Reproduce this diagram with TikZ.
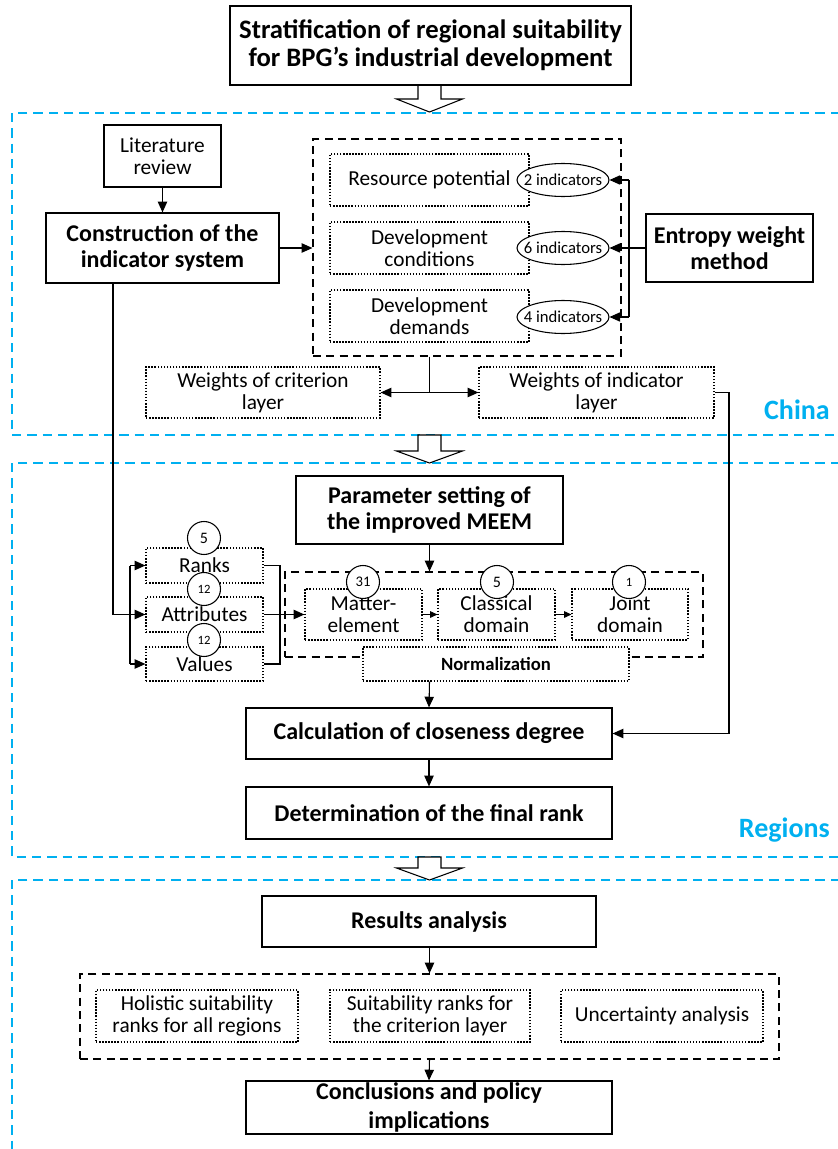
\documentclass[tikz,border=0pt]{standalone}
\usepackage{fontspec}
\setmainfont{Carlito}
\usetikzlibrary{arrows.meta,shapes.geometric}
\definecolor{skyb}{RGB}{0,176,240}
\newcommand\bx[7]{\node[#6, minimum width={(#4-#2)*0.75pt}, minimum height={(#5-#3)*0.75pt}] (#1) at ({(#2+#4)/2},{(#3+#5)/2}) {#7};}
\newcommand\barrow[4]{\draw[line width=0.8pt, fill=white] (#1-11.5,#2) -- (#1+11.5,#2) -- (#1+11.5,#3) -- (#1+33,#3) -- (#1,#4) -- (#1-33,#3) -- (#1-11.5,#3) -- cycle;}
\begin{document}
\begin{tikzpicture}[x=0.75pt,y=-0.75pt,
  main/.style={draw, line width=0.9pt, fill=white, align=center, inner sep=0pt, font=\bfseries\fontsize{18}{19}\selectfont},
  plainbox/.style={draw, line width=0.9pt, fill=white, align=center, inner sep=0pt, font=\fontsize{16}{16.5}\selectfont},
  dotbox/.style={draw, line width=0.9pt, dash pattern=on 1.1pt off 1.2pt, fill=white, align=center, inner sep=0pt, font=\fontsize{16}{16.5}\selectfont},
  dashbox/.style={draw, line width=0.9pt, dash pattern=on 6pt off 4pt, inner sep=0pt},
  bluel/.style={draw=skyb, line width=1.1pt, dash pattern=on 7pt off 4.5pt},
  conn/.style={line width=0.8pt},
  arr/.style={line width=0.8pt, -{Triangle[length=8pt,width=7pt]}},
  sarr/.style={line width=0.6pt, -{Triangle[length=5.5pt,width=5pt]}},
  num/.style={circle, draw, fill=white, line width=0.8pt, minimum size=24.75pt, inner sep=0pt},
  ind/.style={ellipse, draw, fill=white, line width=0.8pt, minimum width=69pt, minimum height=24.75pt, inner sep=0pt},
  indtxt/.style={font=\fontsize{12.5}{13}\selectfont, inner sep=0pt},
  region/.style={font=\bfseries\fontsize{21}{21}\selectfont, text=skyb, anchor=base east, inner sep=0pt}
]
\useasboundingbox (0,0) rectangle (838,1149);

% blue region frames
\draw[bluel] (840,113) -- (12,113) -- (12,435) -- (840,435);
\draw[bluel] (840,463) -- (12,463) -- (12,857) -- (840,857);
\draw[bluel] (840,880) -- (12,880) -- (12,1152);
\node[region] (china) at (830,419) {China};
\node[region] (regions) at (830,837) {Regions};

% block arrows
\barrow{429.5}{85}{99}{112}
\barrow{429.5}{435}{451}{463}
\barrow{429.5}{857}{868}{880}

% title
\bx{title}{230}{6}{631}{85}{main, font=\bfseries\fontsize{20}{21}\selectfont}{Stratification of regional suitability\\for BPG’s industrial development}

% China part
\bx{lit}{104}{125}{221}{187}{plainbox}{Literature\\review}
\bx{cons}{46}{213}{279}{283}{main}{Construction of the\\indicator system}
\bx{crit}{313}{139}{621}{356}{dashbox}{}
\bx{rp}{330}{154}{529}{206}{dotbox}{Resource potential}
\bx{dc}{330}{222}{529}{274}{dotbox}{Development\\conditions}
\bx{dd}{330}{290}{529}{342}{dotbox}{Development\\demands}
\node[ind] (i1) at (563,180) {};
\node[indtxt] at (i1) {2 indicators};
\node[ind] (i2) at (563,248) {};
\node[indtxt] at (i2) {6 indicators};
\node[ind] (i3) at (563,317) {};
\node[indtxt] at (i3) {4 indicators};
\bx{ent}{646}{214}{813}{282}{main}{Entropy weight\\method}
\bx{wc}{146}{367}{380}{418}{dotbox}{Weights of criterion\\layer}
\bx{wi}{479}{367}{714}{418}{dotbox}{Weights of indicator\\layer}

% Regions part
\bx{param}{296}{476}{563}{544}{main}{Parameter setting of\\the improved MEEM}
\bx{meem}{285}{572}{703}{657}{dashbox}{}
\bx{ranks}{146}{548}{263}{583}{dotbox}{Ranks}
\bx{attr}{146}{597}{263}{632}{dotbox}{Attributes}
\bx{vals}{146}{647}{263}{681}{dotbox}{Values}
\bx{matter}{305}{589}{422}{640}{dotbox}{Matter-\\element}
\bx{cls}{438}{589}{555}{640}{dotbox}{Classical\\domain}
\bx{joint}{572}{589}{688}{640}{dotbox}{Joint\\domain}
\bx{norm}{363}{647}{629}{681}{dotbox, font=\bfseries\fontsize{14}{15}\selectfont}{Normalization}
\node[num, font=\fontsize{12}{12}\selectfont] (c1) at (204,538) {5};
\node[num, font=\fontsize{9.5}{9.5}\selectfont] (c2) at (204,589) {12};
\node[num, font=\fontsize{9.5}{9.5}\selectfont] (c3) at (204,640) {12};
\node[num, font=\fontsize{11}{11}\selectfont] (c4) at (363,582) {31};
\node[num, font=\fontsize{12}{12}\selectfont] (c5) at (497,582) {5};
\node[num, font=\fontsize{9.5}{9.5}\selectfont] (c6) at (629,582) {1};
\bx{calc}{246}{708}{612}{759}{main}{Calculation of closeness degree}
\bx{det}{246}{787}{612}{839}{main}{Determination of the final rank}

% Results part
\bx{res}{262}{896}{596}{947}{main}{Results analysis}
\bx{outb}{80}{974}{779}{1059}{dashbox}{}
\bx{hol}{96}{990}{298}{1042}{dotbox}{Holistic suitability\\ranks for all regions}
\bx{suit}{330}{990}{530}{1042}{dotbox}{Suitability ranks for\\the criterion layer}
\bx{unc}{561}{990}{763}{1042}{dotbox}{Uncertainty analysis}
\bx{concl}{246}{1081}{612}{1134}{main, font=\bfseries\fontsize{18}{22}\selectfont}{Conclusions and policy\\implications}

% connectors
\coordinate (eb) at (629,0);
\coordinate (tb) at (429.5,0);
\coordinate (rb) at (729,0);
\coordinate (lb) at (113,0);
\coordinate (lb2) at (130,0);
\coordinate (rr) at (280,0);

\draw[arr] (lit.south) -- (cons.north);
\draw[arr] (cons.east) -- (cons.east -| crit.west);
\draw[conn] (ent.west) -- (eb |- ent.west);
\draw[conn] (eb |- i1.east) -- (eb |- i3.east);
\draw[arr] (eb |- i1.east) -- (i1.east);
\draw[arr] (eb |- i2.east) -- (i2.east);
\draw[arr] (eb |- i3.east) -- (i3.east);
\draw[conn] (tb |- crit.south) -- (tb |- wc.east) coordinate (tj);
\draw[arr] (tj) -- (wc.east);
\draw[arr] (tj) -- (wi.west);
\draw[arr] (wi.east) -- (wi.east -| rb) |- (calc.east);

\draw[arr] (cons.south -| lb) |- (attr.west);
\draw[conn] (lb2 |- ranks.west) -- (lb2 |- vals.west);
\draw[arr] (lb2 |- ranks.west) -- (ranks.west);
\draw[arr] (lb2 |- vals.west) -- (vals.west);
\draw[conn] (ranks.east) -| (rr |- vals.east) -- (vals.east);
\draw[arr] (attr.east) -- (matter.west);
\draw[sarr] (matter.east) -- (cls.west);
\draw[sarr] (cls.east) -- (joint.west);
\draw[arr] (tb |- param.south) -- (tb |- meem.north);
\draw[arr] (tb |- norm.south) -- (calc.north);
\draw[arr] (calc.south) -- (det.north);
\draw[arr] (tb |- res.south) -- (tb |- outb.north);
\draw[arr] (tb |- outb.south) -- (concl.north);
\end{tikzpicture}
\end{document}
